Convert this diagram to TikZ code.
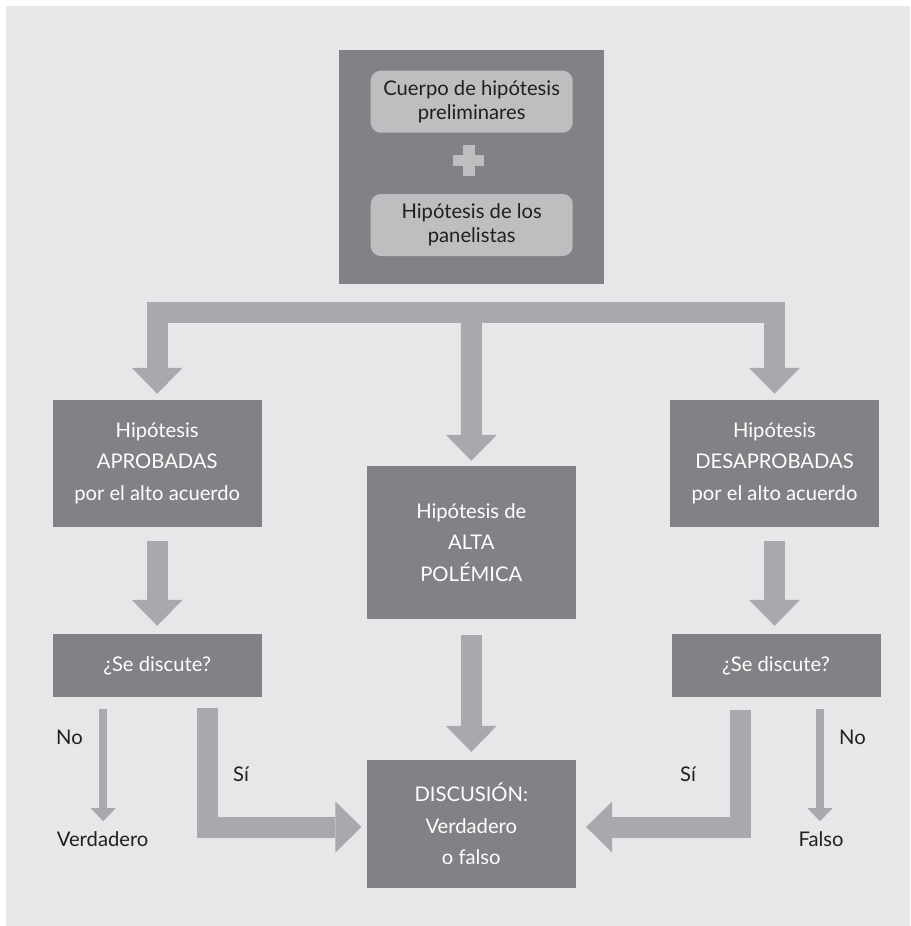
\documentclass[tikz,border=0pt]{standalone}
\usepackage{fontspec}
\setmainfont{Lato}
\usetikzlibrary{arrows.meta,calc}
\definecolor{panelbg}{HTML}{E6E7E8}
\definecolor{boxgray}{HTML}{808285}
\definecolor{arrowgray}{HTML}{A7A9AC}
\definecolor{innergray}{HTML}{BCBEC0}
\definecolor{inktext}{HTML}{231F20}

\begin{document}
\begin{tikzpicture}[x=1pt,y=-1pt,
  box/.style={fill=boxgray, text=white, inner sep=0pt, align=center,
    font=\fontsize{20.2}{31.5}\selectfont},
  innerbox/.style={fill=innergray, rounded corners=10pt, text=inktext, inner sep=0pt,
    align=center, minimum width=202pt, minimum height=62pt,
    font=\fontsize{20.2}{24}\selectfont},
  fat/.style={draw=arrowgray, line width=21pt, line join=miter,
    -{Triangle[length=26pt, width=51pt, line width=0pt]}},
  slim/.style={draw=arrowgray, line width=8pt,
    -{Triangle[length=13pt, width=25pt, line width=0pt]}},
  lbl/.style={text=inktext, inner sep=0pt, anchor=base west,
    font=\fontsize{20.2}{24}\selectfont}
]
\useasboundingbox (0,0) rectangle (910,926);
\fill[white] (0,0) rectangle (910,926);
\fill[panelbg] (6,6) rectangle (910,926);

% source block: two hypothesis groups joined by a plus
\node[box, minimum width=265pt, minimum height=234pt] (top) at (471.5,167) {};
\node[innerbox] (pre) at (471.7,101.7) {Cuerpo de hipótesis\\preliminares};
\node[innerbox] (pan) at (471.7,225) {Hipótesis de los\\panelistas};
\coordinate (plus) at ($(top.center)+(-3,-6.7)$);
\fill[innergray] ($(plus)+(-6,-15.5)$) rectangle ($(plus)+(6,15.5)$);
\fill[innergray] ($(plus)+(-15.5,-5.5)$) rectangle ($(plus)+(15.5,5.5)$);

% classification boxes
\node[box, minimum width=209pt, minimum height=126.7pt] (apro) at (157.2,463.3)
  {Hipótesis\\APROBADAS\\por el alto acuerdo};
\node[box, minimum width=209pt, minimum height=126.7pt] (desa) at (774.5,463.3)
  {Hipótesis\\DESAPROBADAS\\por el alto acuerdo};
\node[box, minimum width=209.3pt, minimum height=153pt] (mid) at (471.3,542.5)
  {Hipótesis de\\ALTA\\POLÉMICA};
\node[box, minimum width=209pt, minimum height=63pt] (sdL) at (157.2,665.5) {¿Se discute?};
\node[box, minimum width=209pt, minimum height=63pt] (sdR) at (776,665.5) {¿Se discute?};
\node[box, minimum width=209.3pt, minimum height=128pt] (disc) at (471.3,824)
  {DISCUSIÓN:\\Verdadero\\o falso};

% answer labels
\node[lbl] (noL) at (56,744) {No};
\node[lbl] (siL) at (233,781.7) {Sí};
\node[lbl] (verd) at (56.7,846.7) {Verdadero};
\node[lbl] (siR) at (680,781.7) {Sí};
\node[lbl] (noR) at (839,744.3) {No};
\node[lbl] (fals) at (798.3,846.7) {Falso};

% three-way split
\coordinate (fork) at ($(top.south)+(0,28.2)$);
\draw[fat, shorten >=6pt] (fork) -| (apro.north);
\draw[fat, shorten >=6pt] (fork) -| (desa.north);
\draw[fat, shorten >=5pt] (fork) -- (mid.north);

% vertical flow
\draw[fat, shorten <=14pt, shorten >=8pt] (apro.south) -- (sdL.north);
\draw[fat, shorten <=14pt, shorten >=8pt] (desa.south) -- (desa.south |- sdR.north);
\draw[fat, shorten <=16pt, shorten >=8pt] (mid.south) -- (disc.north);

% "Sí" branches into the discussion
\draw[fat] ($(sdL.south)+(50,11)$) |- ($(disc.west)+(-5,3)$);
\draw[fat] ($(sdR.south)+(-35.7,13)$) |- ($(disc.east)+(10,3)$);

% "No" branches
\draw[slim] ($(sdL.south)+(-54,12)$) -- ($(sdL.south)+(-54,124)$);
\draw[slim] ($(sdR.south)+(44,12)$) -- ($(sdR.south)+(44,124)$);
\end{tikzpicture}
\end{document}
